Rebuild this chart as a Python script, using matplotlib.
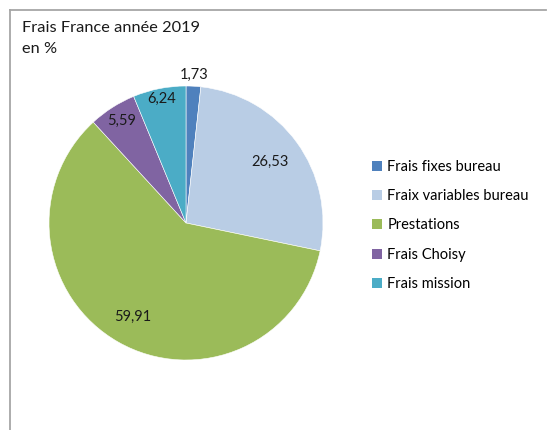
import numpy as np
import matplotlib.pyplot as plt
from matplotlib.lines import Line2D
from matplotlib.patches import Patch

plt.rcParams['font.family'] = ['Lato', 'DejaVu Sans']

categories = ['Frais fixes bureau', 'Fraix variables bureau', 'Prestations',
              'Frais Choisy', 'Frais mission']
values = [1.73, 26.53, 59.91, 5.59, 6.24]
colors = ['#4F81BD', '#B9CDE5', '#9BBB59', '#8064A2', '#4BACC6']
label_dist = [1.08, 0.76, 0.79, 0.88, 0.92]

W, H = 547, 430
fig = plt.figure(figsize=(W / 100, H / 100), dpi=100)

# pie: centre (186, 223) px, radius 137 px
cx, cy, r = 186, 223, 137
ax = fig.add_axes([(cx - r) / W, (H - cy - r) / H, 2 * r / W, 2 * r / H])
wedges, _ = ax.pie(values, colors=colors, startangle=90, counterclock=False,
                   radius=1, wedgeprops=dict(edgecolor='white', linewidth=0.4))
ax.set_xlim(-1, 1)
ax.set_ylim(-1, 1)
ax.set_aspect('equal')
ax.axis('off')

for w, v, d in zip(wedges, values, label_dist):
    ang = np.deg2rad((w.theta1 + w.theta2) / 2)
    ax.text(d * np.cos(ang), d * np.sin(ang), f"{v:.2f}".replace('.', ','),
            ha='center', va='center', fontsize=10.5, color='#1a1a1a', clip_on=False)

# title
fig.text(22 / W, 1 - 28 / H, "Frais France année 2019", fontsize=11.8,
         ha='left', va='center', color='#1a1a1a')
fig.text(22 / W, 1 - 49 / H, "en %", fontsize=11.8,
         ha='left', va='center', color='#1a1a1a')

# legend
handles = [Patch(facecolor=c, edgecolor='none') for c in colors]
fig.legend(handles, categories, loc='upper left',
           bbox_to_anchor=(366 / W, 1 - 154 / H), frameon=False,
           fontsize=10.5, labelspacing=1.05, handlelength=0.7, handleheight=0.7,
           handletextpad=0.35, borderaxespad=0)

# outer frame (top + left visible)
fr = dict(color='#A6A6A6', linewidth=1.3, transform=fig.transFigure)
fig.add_artist(Line2D([10 / W, 546 / W], [1 - 10 / H, 1 - 10 / H], **fr))
fig.add_artist(Line2D([10 / W, 10 / W], [0, 1 - 10 / H], **fr))

fig.savefig('out.png', dpi=100, facecolor='white')
